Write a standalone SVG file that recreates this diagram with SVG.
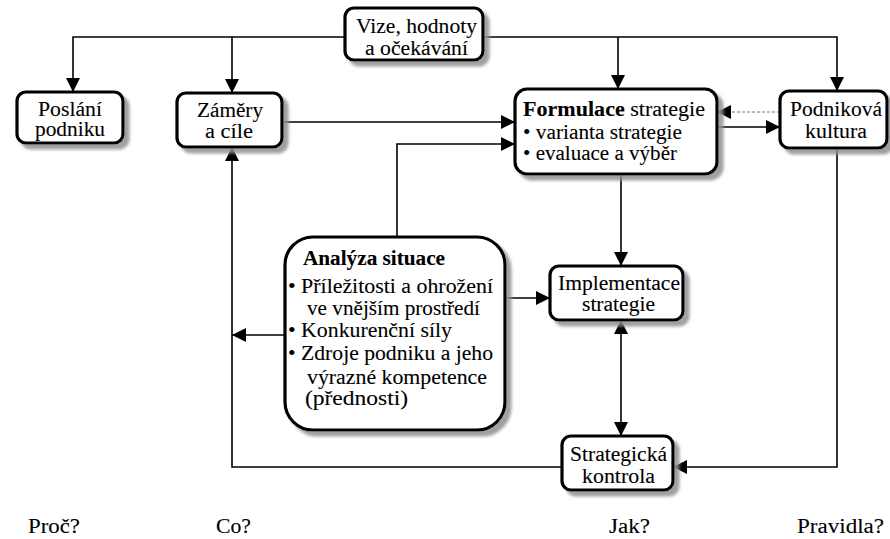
<svg xmlns="http://www.w3.org/2000/svg" width="890" height="539" viewBox="0 0 890 539">
  <defs>
    <filter id="shadow" x="-10%" y="-10%" width="130%" height="130%">
      <feOffset in="SourceAlpha" dx="5" dy="5" result="off"/>
      <feGaussianBlur in="off" stdDeviation="1.6" result="blur"/>
      <feFlood flood-color="#8f8f8f" flood-opacity="0.85"/>
      <feComposite in2="blur" operator="in" result="sh"/>
      <feMerge>
        <feMergeNode in="sh"/>
        <feMergeNode in="SourceGraphic"/>
      </feMerge>
    </filter>
    <marker id="arrow" viewBox="0 0 14 14" refX="14" refY="7" markerWidth="14" markerHeight="14" markerUnits="userSpaceOnUse" orient="auto-start-reverse">
      <path d="M0,0 L14,7 L0,14 z" fill="#000"/>
    </marker>
  </defs>
  <style>
    .box { fill: #fff; stroke: #000; stroke-width: 3.2; filter: url(#shadow); }
    .t { font-family: "Liberation Serif", "Times New Roman", serif; font-size: 20.5px; fill: #000; stroke: #000; stroke-width: 0.1; }
    .c { text-anchor: middle; }
    .b { font-weight: bold; }
    .link { fill: none; stroke: #000; stroke-width: 1.6; }
    .dash { fill: none; stroke: #777; stroke-width: 1; stroke-dasharray: 3 2; }
  </style>
  <rect width="890" height="539" fill="#fff"/>

  <g id="connectors">
    <!-- values and expectations feed everything across the top -->
    <path class="link" d="M345,37 H73 V92" marker-end="url(#arrow)"/>
    <path class="link" d="M232,37 V93" marker-end="url(#arrow)"/>
    <path class="link" d="M483,37 H837 V91" marker-end="url(#arrow)"/>
    <path class="link" d="M618,37 V89" marker-end="url(#arrow)"/>
    <!-- goals and situation analysis into strategy formulation -->
    <path class="link" d="M282,122 H515" marker-end="url(#arrow)"/>
    <path class="link" d="M397,237 V144 H515" marker-end="url(#arrow)"/>
    <!-- formulation and culture -->
    <path class="dash" d="M780,112 H717" marker-end="url(#arrow)"/>
    <path class="link" d="M717,127 H780" marker-end="url(#arrow)"/>
    <!-- formulation to implementation -->
    <path class="link" d="M621,174 V266" marker-end="url(#arrow)"/>
    <path class="link" d="M505,298 H550" marker-end="url(#arrow)"/>
    <path class="link" d="M285,335 H232" marker-end="url(#arrow)"/>
    <!-- control feedback loop -->
    <path class="link" d="M562,467 H232 V147" marker-end="url(#arrow)"/>
    <path class="link" d="M621,320 V436" marker-start="url(#arrow)" marker-end="url(#arrow)"/>
    <path class="link" d="M837,148 V467 H673" marker-end="url(#arrow)"/>
  </g>

  <g id="vize">
    <rect class="box" x="345" y="8" width="138" height="52" rx="9"/>
    <text class="t c" x="416.5" y="33" textLength="121" lengthAdjust="spacingAndGlyphs">Vize, hodnoty</text>
    <text class="t c" x="416.5" y="55" textLength="103" lengthAdjust="spacingAndGlyphs">a očekávání</text>
  </g>

  <g id="poslani">
    <rect class="box" x="17" y="92" width="106" height="51" rx="9"/>
    <text class="t c" x="70" y="116" textLength="64" lengthAdjust="spacingAndGlyphs">Poslání</text>
    <text class="t c" x="70" y="136" textLength="70" lengthAdjust="spacingAndGlyphs">podniku</text>
  </g>

  <g id="zamery">
    <rect class="box" x="177" y="93" width="105" height="54" rx="9"/>
    <text class="t c" x="230" y="117" textLength="66" lengthAdjust="spacingAndGlyphs">Záměry</text>
    <text class="t c" x="229" y="138" textLength="48" lengthAdjust="spacingAndGlyphs">a cíle</text>
  </g>

  <g id="formulace">
    <rect class="box" x="515" y="89" width="202" height="85" rx="12"/>
    <text class="t" x="523" y="116" textLength="182" lengthAdjust="spacingAndGlyphs"><tspan class="b">Formulace</tspan> strategie</text>
    <text class="t" x="523" y="139" textLength="159" lengthAdjust="spacingAndGlyphs">• varianta strategie</text>
    <text class="t" x="523" y="160" textLength="154" lengthAdjust="spacingAndGlyphs">• evaluace a výběr</text>
  </g>

  <g id="kultura">
    <rect class="box" x="780" y="91" width="107" height="57" rx="9"/>
    <text class="t c" x="836" y="116" textLength="92" lengthAdjust="spacingAndGlyphs">Podniková</text>
    <text class="t c" x="836" y="138" textLength="62" lengthAdjust="spacingAndGlyphs">kultura</text>
  </g>

  <g id="analyza">
    <rect class="box" x="285" y="237" width="220" height="193" rx="28"/>
    <text class="t b" x="303" y="265" textLength="142" lengthAdjust="spacingAndGlyphs">Analýza situace</text>
    <text class="t" x="288" y="293" textLength="205" lengthAdjust="spacingAndGlyphs">• Příležitosti a ohrožení</text>
    <text class="t" x="307" y="315" textLength="173" lengthAdjust="spacingAndGlyphs">ve vnějším prostředí</text>
    <text class="t" x="288" y="337" textLength="164" lengthAdjust="spacingAndGlyphs">• Konkurenční síly</text>
    <text class="t" x="288" y="360" textLength="205" lengthAdjust="spacingAndGlyphs">• Zdroje podniku a jeho</text>
    <text class="t" x="307" y="384" textLength="180" lengthAdjust="spacingAndGlyphs">výrazné kompetence</text>
    <text class="t" x="305" y="405" textLength="103" lengthAdjust="spacingAndGlyphs">(přednosti)</text>
  </g>

  <g id="implementace">
    <rect class="box" x="550" y="266" width="133" height="54" rx="9"/>
    <text class="t c" x="619" y="290" textLength="122" lengthAdjust="spacingAndGlyphs">Implementace</text>
    <text class="t c" x="618.5" y="311" textLength="73" lengthAdjust="spacingAndGlyphs">strategie</text>
  </g>

  <g id="kontrola">
    <rect class="box" x="562" y="436" width="111" height="54" rx="9"/>
    <text class="t c" x="618.5" y="461" textLength="97" lengthAdjust="spacingAndGlyphs">Strategická</text>
    <text class="t c" x="618.5" y="483" textLength="73" lengthAdjust="spacingAndGlyphs">kontrola</text>
  </g>

  <g id="otazky">
    <text class="t" x="28" y="533" textLength="52" lengthAdjust="spacingAndGlyphs">Proč?</text>
    <text class="t" x="216" y="533" textLength="35" lengthAdjust="spacingAndGlyphs">Co?</text>
    <text class="t" x="609" y="533" textLength="41" lengthAdjust="spacingAndGlyphs">Jak?</text>
    <text class="t" x="797" y="533" textLength="87" lengthAdjust="spacingAndGlyphs">Pravidla?</text>
  </g>
</svg>
